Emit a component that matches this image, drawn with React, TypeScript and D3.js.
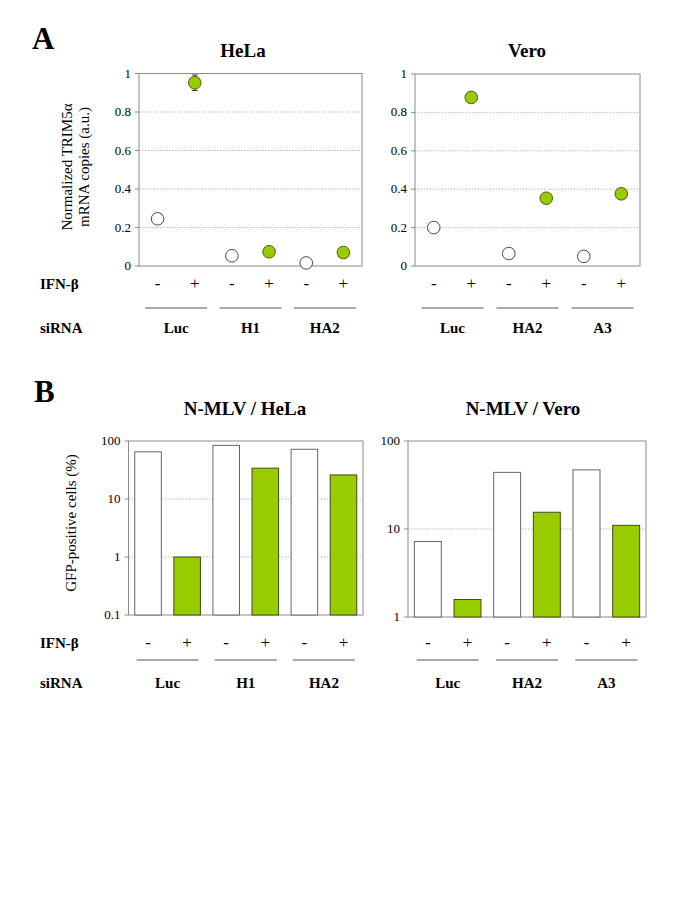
import React from 'react';
import * as d3 from 'd3';

// ---- data ----
const ifnSigns = ['-', '+'];
const helaGroups = ['Luc', 'H1', 'HA2'];
const veroGroups = ['Luc', 'HA2', 'A3'];

// panel A: normalized TRIM5a mRNA copies (a.u.), order: Luc-, Luc+, H1-, H1+, ...
const helaMrna = [0.245, 0.952, 0.053, 0.074, 0.016, 0.07];
const helaMrnaErr = [0, 0.04, 0, 0, 0, 0];
const veroMrna = [0.2, 0.878, 0.065, 0.353, 0.05, 0.376];
const linearTicks = [0, 0.2, 0.4, 0.6, 0.8, 1];

// panel B: GFP-positive cells (%)
const helaGfp = [65, 1.0, 84, 34, 72, 26];
const veroGfp = [7.2, 1.58, 44, 15.5, 47, 11];
const helaLogTicks = [0.1, 1, 10, 100];
const veroLogTicks = [1, 10, 100];

const GREEN = '#99cc00';
const SERIF = '"Liberation Serif", "Times New Roman", serif';

function cats(groups) {
  const out = [];
  groups.forEach(g => ifnSigns.forEach(s => out.push(g + s)));
  return out;
}

function Labels({ x, groups, signY, lineY, nameY }) {
  return (
    <g fill="#000">
      {cats(groups).map((c, i) => (
        <text key={c} x={x(c) + x.bandwidth() / 2} y={signY} textAnchor="middle"
          fontSize={17} fontFamily={SERIF}>{ifnSigns[i % 2]}</text>
      ))}
      {groups.map(g => {
        const cx = (x(g + '-') + x(g + '+') + x.bandwidth()) / 2;
        return (
          <g key={g}>
            <line x1={cx - 31} x2={cx + 31} y1={lineY} y2={lineY} stroke="#8c8c8c" strokeWidth={1.6} />
            <text x={cx} y={nameY} textAnchor="middle" fontSize={15} fontWeight="bold" fontFamily={SERIF}>{g}</text>
          </g>
        );
      })}
    </g>
  );
}

function DotPanel({ left, right, top, bottom, groups, values, errs, title, titleX }) {
  const x = d3.scaleBand().domain(cats(groups)).range([left, right]);
  const y = d3.scaleLinear().domain([0, 1]).range([bottom, top]);
  return (
    <g>
      <text x={titleX} y={57} textAnchor="middle" fontSize={19} fontWeight="bold" fontFamily={SERIF} fill="#000">{title}</text>
      {linearTicks.filter(t => t > 0 && t < 1).map(t => (
        <line key={t} x1={left} x2={right} y1={y(t)} y2={y(t)} stroke="#aaa" strokeWidth={0.8} strokeDasharray="1.5,1.5" />
      ))}
      <rect x={left} y={top} width={right - left} height={bottom - top} fill="none" stroke="#8c8c8c" strokeWidth={1} />
      {linearTicks.map(t => (
        <g key={t}>
          <line x1={left - 4} x2={left} y1={y(t)} y2={y(t)} stroke="#8c8c8c" />
          <text x={left - 8} y={y(t) + 4} textAnchor="end" fontSize={13} fontFamily={SERIF} fill="#000">{String(t)}</text>
        </g>
      ))}
      {values.map((v, i) => {
        const cx = x(cats(groups)[i]) + x.bandwidth() / 2;
        const e = errs ? errs[i] : 0;
        return (
          <g key={i}>
            {e > 0 && (
              <g stroke="#333" strokeWidth={1}>
                <line x1={cx} x2={cx} y1={y(v - e)} y2={y(v + e)} />
                <line x1={cx - 3} x2={cx + 3} y1={y(v - e)} y2={y(v - e)} />
                <line x1={cx - 3} x2={cx + 3} y1={y(v + e)} y2={y(v + e)} />
              </g>
            )}
            <circle cx={cx} cy={y(v)} r={6.3} fill={i % 2 ? GREEN : '#fff'}
              stroke={i % 2 ? '#3d5200' : '#333'} strokeWidth={0.9} />
          </g>
        );
      })}
      <Labels x={x} groups={groups} signY={289} lineY={308} nameY={333} />
    </g>
  );
}

function BarPanel({ left, right, top, bottom, groups, values, ticks, title, titleX }) {
  const x = d3.scaleBand().domain(cats(groups)).range([left, right]);
  const y = d3.scaleLog().domain([ticks[0], ticks[ticks.length - 1]]).range([bottom, top]);
  const bw = x.bandwidth() * 0.68;
  return (
    <g>
      <text x={titleX} y={415} textAnchor="middle" fontSize={19} fontWeight="bold" fontFamily={SERIF} fill="#000">{title}</text>
      {ticks.slice(1, -1).map(t => (
        <line key={t} x1={left} x2={right} y1={y(t)} y2={y(t)} stroke="#aaa" strokeWidth={0.8} strokeDasharray="1.5,1.5" />
      ))}
      <rect x={left} y={top} width={right - left} height={bottom - top} fill="none" stroke="#8c8c8c" strokeWidth={1} />
      {ticks.map(t => (
        <g key={t}>
          <line x1={left - 4} x2={left} y1={y(t)} y2={y(t)} stroke="#8c8c8c" />
          <text x={left - 8} y={y(t) + 4} textAnchor="end" fontSize={13} fontFamily={SERIF} fill="#000">{String(t)}</text>
        </g>
      ))}
      {values.map((v, i) => {
        const c = cats(groups)[i];
        const cx = x(c) + x.bandwidth() / 2;
        return (
          <rect key={c} x={cx - bw / 2} y={y(v)} width={bw} height={bottom - y(v)}
            fill={i % 2 ? GREEN : '#fff'} stroke={i % 2 ? '#3d4d1a' : '#666'} strokeWidth={1} />
        );
      })}
      <Labels x={x} groups={groups} signY={648} lineY={660} nameY={688} />
    </g>
  );
}

export default function App() {
  return (
    <svg width={685} height={913} style={{ position: 'absolute', left: 0, top: 0, background: '#fff' }}>
      <rect width={685} height={913} fill="#fff" />
      {/* panel A */}
      <text x={32} y={49} fontSize={31} fontWeight="bold" fontFamily={SERIF}>A</text>
      <text transform="translate(72,167) rotate(-90)" textAnchor="middle" fontSize={15} fontFamily={SERIF}>Normalized TRIM5α</text>
      <text transform="translate(89,167) rotate(-90)" textAnchor="middle" fontSize={15} fontFamily={SERIF}>mRNA copies (a.u.)</text>
      <DotPanel left={139} right={362} top={73.5} bottom={266} groups={helaGroups}
        values={helaMrna} errs={helaMrnaErr} title="HeLa" titleX={243} />
      <DotPanel left={415} right={640} top={74} bottom={266} groups={veroGroups}
        values={veroMrna} title="Vero" titleX={527} />
      <text x={40} y={289} fontSize={15} fontWeight="bold" fontFamily={SERIF}>IFN-β</text>
      <text x={40} y={333} fontSize={15} fontWeight="bold" fontFamily={SERIF}>siRNA</text>

      {/* panel B */}
      <text x={34} y={402} fontSize={31} fontWeight="bold" fontFamily={SERIF}>B</text>
      <text transform="translate(76,523) rotate(-90)" textAnchor="middle" fontSize={15} fontFamily={SERIF}>GFP-positive cells (%)</text>
      <BarPanel left={128.5} right={363} top={441} bottom={615} groups={helaGroups}
        values={helaGfp} ticks={helaLogTicks} title="N-MLV / HeLa" titleX={245} />
      <BarPanel left={408} right={646} top={441} bottom={617} groups={veroGroups}
        values={veroGfp} ticks={veroLogTicks} title="N-MLV / Vero" titleX={523} />
      <text x={40} y={648} fontSize={15} fontWeight="bold" fontFamily={SERIF}>IFN-β</text>
      <text x={40} y={688} fontSize={15} fontWeight="bold" fontFamily={SERIF}>siRNA</text>
    </svg>
  );
}
